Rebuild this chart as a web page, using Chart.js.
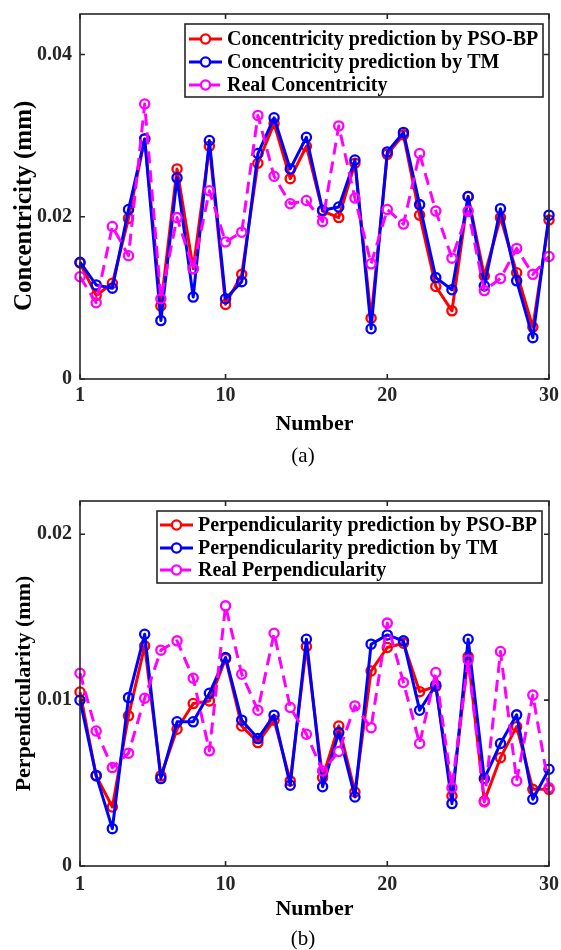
<!DOCTYPE html>
<html><head><meta charset="utf-8">
<script src="https://cdn.jsdelivr.net/npm/chart.js@4.4.0/dist/chart.umd.min.js"></script>
<style>
html,body{margin:0;padding:0;background:#fff;width:561px;height:950px;overflow:hidden}
.panel{position:absolute;left:0;width:561px;height:475px}
.cap{position:absolute;left:0;width:606px;text-align:center;font:21px "Liberation Serif",serif;line-height:24px;color:#000}
</style></head><body>
<div class="panel" style="top:0"><canvas id="c1" width="561" height="475"></canvas></div>
<div class="panel" style="top:475px"><canvas id="c2" width="561" height="475"></canvas></div>
<div class="cap" style="top:443px">(a)</div>
<div class="cap" style="top:926px">(b)</div>
<script>
// ---------- data ----------
const numbers = [1,2,3,4,5,6,7,8,9,10,11,12,13,14,15,16,17,18,19,20,21,22,23,24,25,26,27,28,29,30];
const xTicks = [1,10,20,30];
const xTickLabels = ['1','10','20','30'];

const concPSO = [0.0143,0.0103,0.0118,0.0198,0.0296,0.0090,0.0259,0.0136,0.0287,0.0092,0.0129,0.0266,0.0315,0.0247,0.0287,0.0207,0.0199,0.0266,0.0075,0.0277,0.0301,0.0202,0.0114,0.0084,0.0225,0.0127,0.0199,0.0131,0.0064,0.0196];
const concTM = [0.0144,0.0116,0.0112,0.0209,0.0296,0.0072,0.0248,0.0101,0.0294,0.0099,0.0120,0.0278,0.0322,0.0259,0.0298,0.0208,0.0212,0.0270,0.0062,0.0280,0.0304,0.0215,0.0125,0.0110,0.0225,0.0115,0.0210,0.0121,0.0051,0.0202];
const concReal = [0.0126,0.0094,0.0188,0.0152,0.0339,0.0099,0.0199,0.0136,0.0232,0.0169,0.0181,0.0325,0.0250,0.0216,0.0220,0.0194,0.0312,0.0223,0.0142,0.0209,0.0191,0.0278,0.0207,0.0149,0.0207,0.0109,0.0124,0.0161,0.0129,0.0151];
const concTicks = [0,0.02,0.04];
const concTickLabels = ['0','0.02','0.04'];
const concNames = ['Concentricity prediction by PSO-BP','Concentricity prediction by TM','Real Concentricity'];

const perpPSO = [0.01049,0.00543,0.00356,0.00905,0.01327,0.00543,0.00824,0.00979,0.00995,0.01250,0.00844,0.00744,0.00879,0.00513,0.01323,0.00533,0.00844,0.00446,0.01176,0.01317,0.01343,0.01051,0.01082,0.00422,0.01262,0.00392,0.00653,0.00840,0.00462,0.00462];
const perpTM = [0.00999,0.00546,0.00225,0.01015,0.01397,0.00527,0.00869,0.00869,0.01041,0.01257,0.00879,0.00768,0.00909,0.00487,0.01367,0.00478,0.00804,0.00416,0.01337,0.01393,0.01357,0.00939,0.01090,0.00376,0.01367,0.00527,0.00738,0.00911,0.00402,0.00583];
const perpReal = [0.01162,0.00814,0.00593,0.00680,0.01011,0.01301,0.01357,0.01132,0.00694,0.01568,0.01156,0.00939,0.01403,0.00955,0.00794,0.00573,0.00690,0.00965,0.00834,0.01464,0.01106,0.00738,0.01166,0.00472,0.01242,0.00386,0.01293,0.00513,0.01030,0.00472];
const perpTicks = [0,0.01,0.02];
const perpTickLabels = ['0','0.01','0.02'];
const perpNames = ['Perpendicularity prediction by PSO-BP','Perpendicularity prediction by TM','Real Perpendicularity'];

// ---------- plugins ----------
const AX = '#262626';
const SERIF = '"Liberation Serif","Times New Roman",serif';

const framePlugin = {
  id: 'frame',
  afterDatasetsDraw(chart) {
    const {ctx, chartArea: a, scales: {x, y}} = chart;
    ctx.save();
    ctx.strokeStyle = AX;
    ctx.lineWidth = 1.6;
    ctx.setLineDash([]);
    ctx.strokeRect(a.left, a.top, a.right - a.left, a.bottom - a.top);
    const tl = 5;
    ctx.beginPath();
    x.ticks.forEach(t => {
      const px = x.getPixelForValue(t.value);
      ctx.moveTo(px, a.bottom); ctx.lineTo(px, a.bottom - tl);
      ctx.moveTo(px, a.top); ctx.lineTo(px, a.top + tl);
    });
    y.ticks.forEach(t => {
      const py = y.getPixelForValue(t.value);
      ctx.moveTo(a.left, py); ctx.lineTo(a.left + tl, py);
      ctx.moveTo(a.right, py); ctx.lineTo(a.right - tl, py);
    });
    ctx.stroke();
    ctx.restore();
  }
};

const boxLegend = {
  id: 'boxLegend',
  afterDraw(chart, args, o) {
    const {ctx} = chart;
    ctx.save();
    ctx.fillStyle = '#fff';
    ctx.fillRect(o.left, o.top, o.right - o.left, o.bottom - o.top);
    ctx.strokeStyle = AX;
    ctx.lineWidth = 1.6;
    ctx.strokeRect(o.left, o.top, o.right - o.left, o.bottom - o.top);
    chart.data.datasets.forEach((ds, i) => {
      const yy = o.rows[i];
      ctx.strokeStyle = ds.borderColor;
      ctx.lineWidth = ds.borderWidth;
      ctx.setLineDash(ds.borderDash || []);
      ctx.beginPath();
      ctx.moveTo(o.x0, yy); ctx.lineTo(o.x1, yy);
      ctx.stroke();
      ctx.setLineDash([]);
      ctx.lineWidth = ds.pointBorderWidth;
      ctx.beginPath();
      ctx.arc((o.x0 + o.x1) / 2, yy, ds.pointRadius, 0, Math.PI * 2);
      ctx.fillStyle = '#fff';
      ctx.fill();
      ctx.stroke();
      ctx.fillStyle = '#000';
      ctx.font = 'bold 20px ' + SERIF;
      ctx.textBaseline = 'middle';
      ctx.textAlign = 'left';
      ctx.fillText(ds.label, o.textX, yy + 1);
    });
    ctx.restore();
  }
};

function makeDs(label, data, color, dash, order) {
  return {
    label, data, order,
    borderColor: color, borderWidth: 3, borderDash: dash, borderJoinStyle: 'round',
    pointRadius: 4.6, pointBorderWidth: 2.3, pointBorderColor: color,
    pointBackgroundColor: 'rgba(0,0,0,0)', pointStyle: 'circle',
    tension: 0, fill: false, clip: false
  };
}

function makePanel(id, names, s1, s2, s3, yMax, yTicks, yLabels, yTitle, geo) {
  new Chart(document.getElementById(id), {
    type: 'line',
    data: {
      labels: numbers,
      datasets: [
        makeDs(names[0], s1, '#ff0000', [], 3),
        makeDs(names[1], s2, '#0000ff', [], 2),
        makeDs(names[2], s3, '#ff00ff', [12, 7], 1)
      ]
    },
    options: {
      responsive: false, animation: false, devicePixelRatio: 1,
      layout: {padding: {top: geo.top, right: 12, left: 0, bottom: 0}},
      plugins: {
        legend: {display: false}, tooltip: {enabled: false},
        boxLegend: geo.legend
      },
      scales: {
        x: {
          type: 'linear', min: 1, max: 30,
          grid: {display: false, drawTicks: false}, border: {display: false},
          afterBuildTicks: s => { s.ticks = xTicks.map(v => ({value: v})); },
          afterFit: s => { s.height = geo.xh; s.paddingLeft = 0; s.paddingRight = 0; },
          ticks: {
            callback: (v, i) => xTickLabels[i], autoSkip: false, maxRotation: 0,
            padding: geo.xpad, color: AX, font: {family: SERIF, size: 20, weight: 'bold'}
          },
          title: {
            display: true, text: 'Number', color: '#000',
            font: {family: SERIF, size: 22, weight: 'bold'},
            padding: {top: 0, bottom: geo.titlePad}
          }
        },
        y: {
          type: 'linear', min: 0, max: yMax,
          grid: {display: false, drawTicks: false}, border: {display: false},
          afterBuildTicks: s => { s.ticks = yTicks.map(v => ({value: v})); },
          afterFit: s => { s.width = 80; s.paddingTop = 0; s.paddingBottom = 0; },
          ticks: {
            callback: (v, i) => yLabels[i], padding: 8, color: AX,
            font: {family: SERIF, size: 20, weight: 'bold'}
          },
          title: {
            display: true, text: yTitle, color: '#000',
            font: {family: SERIF, size: geo.ytSize, weight: 'bold'},
            padding: {top: geo.ytPad, bottom: 0}
          }
        }
      }
    },
    plugins: [framePlugin, boxLegend]
  });
}

makePanel('c1', concNames, concPSO, concTM, concReal, 0.045, concTicks, concTickLabels, 'Concentricity (mm)\u00a0\u00a0\u00a0', {
  top: 14, xh: 96, xpad: 5, titlePad: 37, ytSize: 25, ytPad: 10,
  legend: {left: 185, top: 24, right: 543, bottom: 97, rows: [39, 62, 85], x0: 189, x1: 222, textX: 227}
});
makePanel('c2', perpNames, perpPSO, perpTM, perpReal, 0.022, perpTicks, perpTickLabels, 'Perpendicularity (mm)', {
  top: 26, xh: 84, xpad: 7, titlePad: 27, ytSize: 22, ytPad: 11,
  legend: {left: 157, top: 36, right: 542, bottom: 108, rows: [50, 73, 95], x0: 160, x1: 193, textX: 198}
});
</script>
</body></html>
